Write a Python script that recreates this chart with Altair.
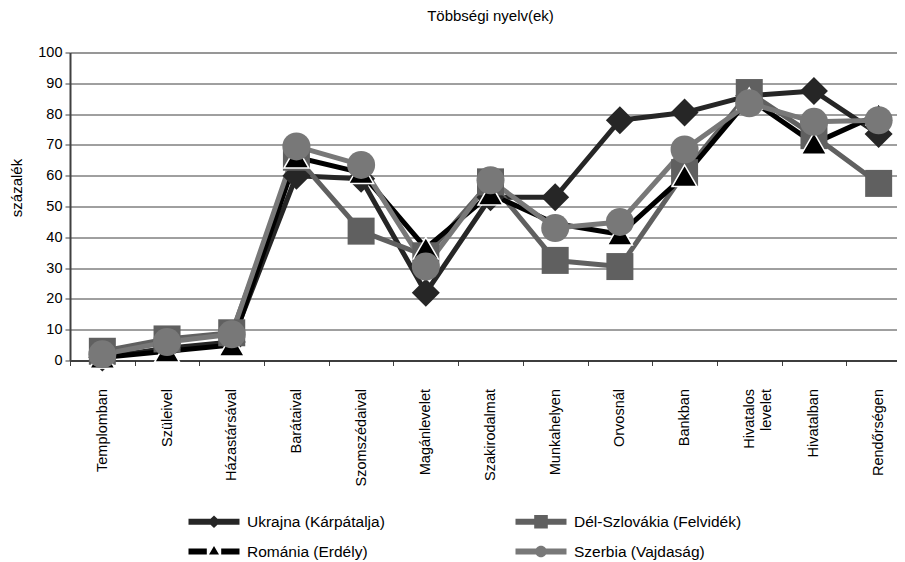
import altair as alt
import pandas as pd

# ---- data ----
categories = ["Templomban", "Szüleivel", "Házastársával", "Barátaival",
              "Szomszédaival", "Magánlevelet", "Szakirodalmat", "Munkahelyen",
              "Orvosnál", "Bankban", "Hivatalos\nlevelet", "Hivatalban",
              "Rendőrségen"]
series_names = ["Ukrajna (Kárpátalja)", "Dél-Szlovákia (Felvidék)",
                "Románia (Erdély)", "Szerbia (Vajdaság)"]
ukrajna = [1, 4, 6, 60, 59, 22, 53, 53, 78, 80.5, 86, 87.5, 73.5]
del_szlovakia = [3, 7, 9, 66, 42, 34, 58, 32.5, 30.5, 61, 87, 73, 57.5]
romania = [1, 3, 5, 66, 61, 36.5, 54, 44.5, 41, 60, 85, 70.5, 80]
szerbia = [2, 6, 8.5, 69.5, 63.5, 30.5, 58.5, 43, 45, 68.5, 83.5, 77.5, 78]
values = [ukrajna, del_szlovakia, romania, szerbia]

# ---- styles ----
colors = ["#262626", "#606060", "#000000", "#787878"]
marker_shapes = ["diamond", "square", "triangle-up", "circle"]
marker_sizes = [784, 729, 625, 784]
marker_strokes = ["transparent", "transparent", "white", "transparent"]

bar = "M-2.55,-0.3H2.55V0.3H-2.55Z"
legend_paths = [
    bar + "M0,-0.62L0.66,0L0,0.62L-0.66,0Z",
    bar + "M-0.68,-0.68H0.68V0.68H-0.68Z",
    "M-2.55,-0.3H-0.72V0.3H-2.55Z M0.72,-0.3H2.55V0.3H0.72Z M0,-0.55L0.5,0.3L-0.5,0.3Z",
    bar + "M0.58,0A0.58,0.58 0 1,1 -0.58,0A0.58,0.58 0 1,1 0.58,0Z",
]

rows = []
for i, name in enumerate(series_names):
    for c, v in zip(categories, values[i]):
        rows.append({"series": name, "cat": c, "val": v,
                     "shape": marker_shapes[i], "sz": marker_sizes[i],
                     "strk": marker_strokes[i]})
df = pd.DataFrame(rows)

FONT = "Liberation Sans"

x_enc = alt.X("cat:N",
              scale=alt.Scale(type="band", domain=categories, paddingInner=0, paddingOuter=0),
              axis=alt.Axis(title=None, labelAngle=270, labelAlign="right",
                            labelBaseline="middle", labelPadding=23, tickSize=5,
                            tickBand="extent", labelExpr="split(datum.label, '\\n')",
                            labelLineHeight=17, domainColor="#202020", domainWidth=1.5,
                            tickColor="#404040", labelFontSize=14.5, labelFont=FONT,
                            labelColor="black", grid=False))
y_enc = alt.Y("val:Q",
              scale=alt.Scale(domain=[0, 100], nice=False),
              axis=alt.Axis(values=list(range(0, 101, 10)), title="százalék",
                            titleX=-54, titleY=135, titleAngle=270,
                            titleBaseline="middle", titleAlign="center",
                            titleFontSize=15, titleFont=FONT, titleFontWeight="normal",
                            titleColor="black",
                            labelFontSize=14.5, labelFont=FONT, labelColor="black",
                            tickSize=5, labelPadding=3, domainColor="#404040",
                            domainWidth=2, gridColor="#404040", tickColor="#404040"))

color_scale = alt.Scale(domain=series_names, range=colors)

lines = alt.Chart(df).mark_line(strokeWidth=5, strokeJoin="round").encode(
    x=x_enc, y=y_enc,
    color=alt.Color("series:N", scale=color_scale, legend=None),
    detail="series:N",
)

points = alt.Chart(df).mark_point(filled=True, opacity=1, strokeWidth=1.5).encode(
    x=x_enc, y=y_enc,
    color=alt.Color("series:N", scale=color_scale, legend=None),
    shape=alt.Shape("shape:N", scale=None),
    size=alt.Size("sz:Q", scale=None),
    stroke=alt.Stroke("strk:N", scale=None),
)

leg_props = dict(title=None, orient="none", legendX=134, legendY=459, columns=2,
                 direction="horizontal",
                 columnPadding=130, rowPadding=11, symbolSize=400, labelOffset=23,
                 labelFont=FONT, labelFontSize=15.5, labelColor="black",
                 symbolStrokeWidth=0, symbolOpacity=1, labelLimit=400, padding=0)

legend_layer = alt.Chart(df).transform_filter("false").mark_point(filled=True).encode(
    x=x_enc, y=y_enc,
    color=alt.Color("series:N", scale=color_scale, legend=alt.Legend(**leg_props)),
    shape=alt.Shape("series:N", scale=alt.Scale(domain=series_names, range=legend_paths),
                    legend=alt.Legend(**leg_props)),
)

chart = alt.layer(legend_layer, lines, points).properties(
    width=841, height=308,
    title=alt.TitleParams("Többségi nyelv(ek)", fontSize=15, font=FONT,
                          fontWeight="normal", anchor="middle", offset=21,
                          color="black"),
    autosize=alt.AutoSizeParams(type="none"),
    padding={"left": 62, "top": 44.5, "right": -14, "bottom": 200},
).configure_view(stroke=None).configure(background="white")

chart.save("out.html", embed_options={"renderer": "svg", "actions": False})
